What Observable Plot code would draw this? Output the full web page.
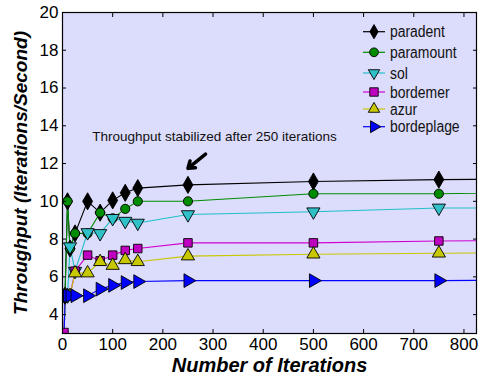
<!DOCTYPE html>
<html><head><meta charset="utf-8">
<script src="https://cdn.jsdelivr.net/npm/d3@7"></script>
<script src="https://cdn.jsdelivr.net/npm/@observablehq/plot@0.6"></script>
<style>
body{margin:0;background:#fff;}
#chart{position:absolute;left:0;top:0;}
</style>
</head><body><div id="chart"></div>
<script>
const iterations = [3, 5, 10, 15, 25, 50, 75, 100, 125, 150, 250, 500, 750, 1000];
const paradent   = [2.5, 5, 10, 7.5, 8.3, 10, 9.4, 10.05, 10.45, 10.7, 10.87, 11.05, 11.15, 11.2];
const paramount  = [2.5, 5, 10, 7.5, 8.3, 8.3, 9.4, 9.1, 9.6, 10.0, 10.0, 10.4, 10.4, 10.5];
const sol        = [2.5, 5, 5, 7.6, 6.3, 8.35, 8.3, 9.1, 8.95, 8.85, 9.3, 9.45, 9.65, 9.65];
const bordemer   = [3.05, 5, 5, 5, 6.3, 7.15, 6.85, 7.15, 7.4, 7.5, 7.8, 7.8, 7.9, 7.95];
const azur       = [2.5, 5, 5, 5, 6.2, 6.2, 6.8, 6.6, 6.9, 6.8, 7.1, 7.2, 7.25, 7.3];
const bordeplage = [2.5, 5, 5, 5, 5, 5.0, 5.35, 5.55, 5.7, 5.75, 5.8, 5.8, 5.8, 5.85];

const seriesNames = ["paradent", "paramount", "sol", "bordemer", "azur", "bordeplage"];
const seriesValues = [paradent, paramount, sol, bordemer, azur, bordeplage];
const lineColors = ["#000000", "#008c00", "#20c0c8", "#d000d0", "#c8c800", "#0000ff"];
const fillColors = ["#000000", "#008c00", "#30c0c8", "#c000c0", "#c8c800", "#0000ff"];
const symbols = ["diamond", "circle", "triangle", "square", "triangle", "triangle"];
const rotations = [0, 0, 180, 0, 0, 90];
const sizes = [5.2, 4.6, 4.9, 4.8, 4.9, 5.1];

const xTicks = [0, 100, 200, 300, 400, 500, 600, 700, 800];
const yTicks = [4, 6, 8, 10, 12, 14, 16, 18, 20];

const annotationText = "Throughput stabilized after 250 iterations";
const annotation = [{x: 303, y: 13.42, label: annotationText}];
const arrowData = [{x1: 285, y1: 12.5, x2: 250, y2: 11.75}];

const rows = [];
seriesNames.forEach((name, s) => {
  iterations.forEach((it, i) => rows.push({series: name, s, x: it, y: seriesValues[s][i]}));
});

const symbolMap = {diamond: d3.symbolDiamond, circle: d3.symbolCircle, triangle: d3.symbolTriangle, square: d3.symbolSquare};

function legendMark(index, scales, values, dimensions) {
  const g = d3.create("svg:g").attr("text-anchor", "start");
  const x0 = dimensions.width - dimensions.marginRight - 113;
  const yPos = [31.7, 52.3, 73, 92, 109, 126.7];
  seriesNames.forEach((name, s) => {
    const y = yPos[s];
    g.append("line").attr("x1", x0).attr("x2", x0 + 22).attr("y1", y).attr("y2", y)
      .attr("stroke", lineColors[s]).attr("stroke-width", 1.2);
    const r = sizes[s] * 0.95;
    const area = symbols[s] === "circle" ? Math.PI * r * r : (symbols[s] === "square" ? (2*r)*(2*r) * 0.85 : (symbols[s]==="diamond" ? 2.4*r*r : 2.6*r*r));
    g.append("path").attr("d", d3.symbol(symbolMap[symbols[s]], area)())
      .attr("transform", `translate(${x0 + 11},${y}) rotate(${rotations[s]})`)
      .attr("fill", fillColors[s]).attr("stroke", "#000").attr("stroke-width", 0.9);
    g.append("text").attr("transform", `translate(${x0 + 27},${y}) scale(0.87,1)`).attr("dy", "0.36em")
      .attr("font-size", 16).attr("fill", "#111").attr("text-anchor", "start")
      .attr("font-family", "Liberation Sans, Arial, sans-serif")
      .text(name);
  });
  return g.node();
}

const lineMarks = seriesNames.map((name, s) =>
  Plot.line(rows.filter(d => d.s === s), {x: "x", y: "y", stroke: lineColors[s], strokeWidth: 1.1, clip: true})
);
const dotMarks = seriesNames.map((name, s) =>
  Plot.dot(rows.filter(d => d.s === s && d.y >= 3 && d.x <= 825), {
    x: "x", y: "y", symbol: symbols[s], r: sizes[s], rotate: rotations[s],
    fill: fillColors[s], stroke: "#000", strokeWidth: 0.9, clip: true
  })
);

const chart = Plot.plot({
  width: 478,
  height: 376,
  marginLeft: 62,
  marginRight: 2,
  marginTop: 12,
  marginBottom: 43,
  style: {fontFamily: "Liberation Sans, Arial, sans-serif", background: "#fff"},
  x: {domain: [0, 825], ticks: xTicks, label: null},
  y: {domain: [3, 20], ticks: yTicks, label: null},
  marks: [
    Plot.frame({fill: "#dcdcfc"}),
    ...lineMarks,
    ...dotMarks,
    Plot.axisX({ticks: xTicks, tickSize: -4, tickPadding: 8, fontSize: 17, label: null, anchor: "bottom"}),
    Plot.axisX({ticks: xTicks, tickSize: -4, tickFormat: () => "", label: null, anchor: "top"}),
    Plot.axisY({ticks: yTicks, tickSize: -4, tickPadding: 8, fontSize: 17, label: null, anchor: "left"}),
    Plot.axisY({ticks: yTicks, tickSize: -4, tickFormat: () => "", label: null, anchor: "right"}),
    Plot.frame({stroke: "#000", strokeWidth: 1.2}),
    Plot.text(annotation, {x: "x", y: "y", text: "label", fontSize: 13.5, fill: "#111"}),
    Plot.arrow(arrowData, {x1: "x1", y1: "y1", x2: "x2", y2: "y2", stroke: "#000", strokeWidth: 3.5, headLength: 10, headAngle: 70}),
    legendMark,
    Plot.text(["Number of Iterations"], {frameAnchor: "bottom", dy: 38, text: d => d, fontSize: 20, fontWeight: "bold", fontStyle: "italic", fill: "#000"}),
    Plot.text(["Throughput (Iterations/Second)"], {frameAnchor: "left", textAnchor: "middle", dx: -42, rotate: -90, text: d => d, fontSize: 19, fontWeight: "bold", fontStyle: "italic", fill: "#000"})
  ]
});
document.getElementById("chart").appendChild(chart);
</script>
</body></html>
